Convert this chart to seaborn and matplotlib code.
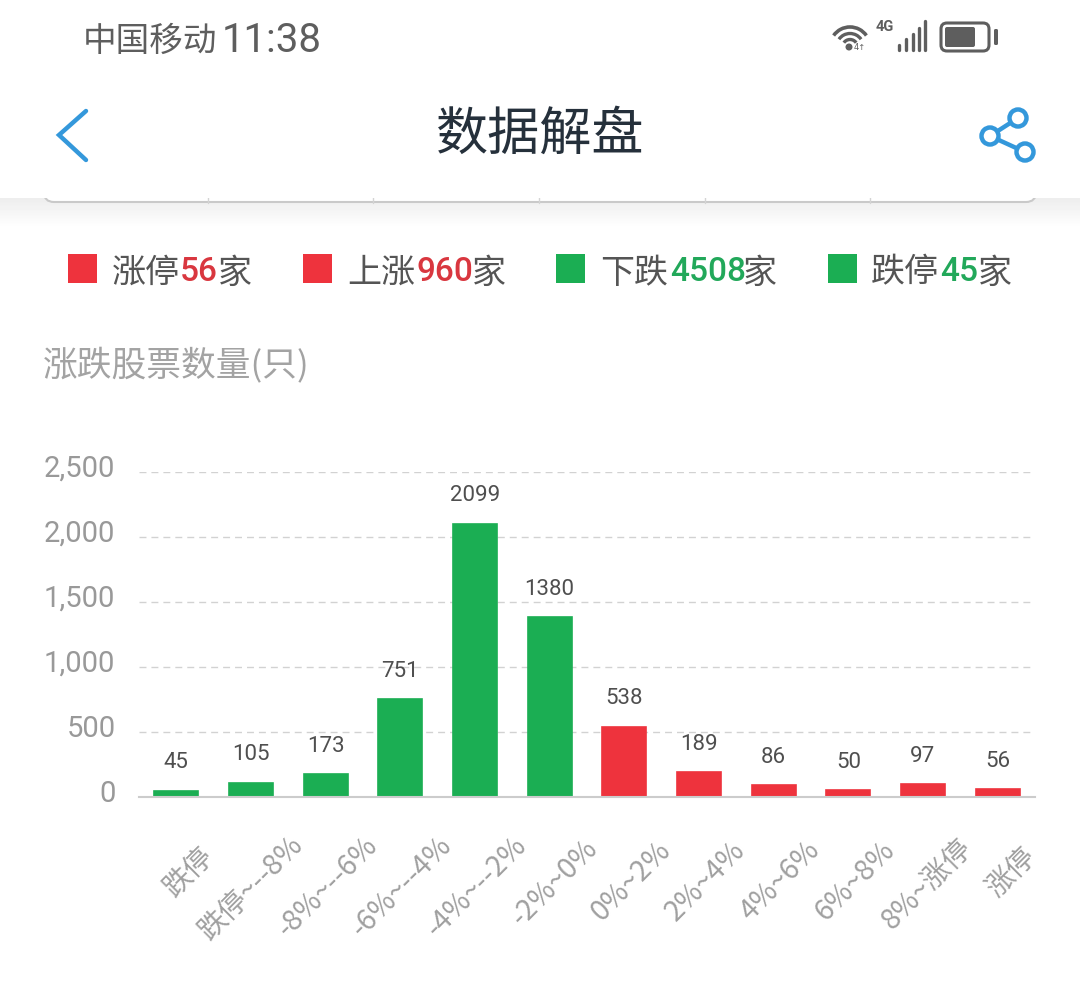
import matplotlib
matplotlib.use("Agg")
import matplotlib.pyplot as plt
from matplotlib.patches import Arc, Circle, FancyBboxPatch, Rectangle
from matplotlib.transforms import ScaledTranslation
import numpy as np
import pandas as pd
import seaborn as sns

# Data
categories = ["跌停", "跌停~--8%", "-8%~--6%", "-6%~--4%", "-4%~--2%", "-2%~0%",
              "0%~2%", "2%~4%", "4%~6%", "6%~8%", "8%~涨停", "涨停"]
stock_counts = [45, 105, 173, 751, 2099, 1380, 538, 189, 86, 50, 97, 56]
directions = ["down"] * 6 + ["up"] * 6
y_ticks = [0, 500, 1000, 1500, 2000, 2500]
summary_names = ["涨停", "上涨", "下跌", "跌停"]
summary_counts = ["56", "960", "4508", "45"]
summary_dirs = ["up", "up", "down", "down"]

RED = "#ee333d"
GREEN = "#1bae53"
palette = {"up": RED, "down": GREEN}
text_red = "#d9373f"
text_green = "#22a85a"
CJK = ["Noto Sans CJK SC", "DejaVu Sans"]
W, H = 1080, 983

sns.set_theme(style="white")
plt.rcParams["font.family"] = CJK

fig = plt.figure(figsize=(W / 100, H / 100), dpi=100, facecolor="white")

# Screen layer addressed in pixels, origin at the top left
ui = fig.add_axes([0, 0, 1, 1], zorder=0)
ui.set_xlim(0, W)
ui.set_ylim(H, 0)
ui.axis("off")

# Drop shadow under the header with the card edge peeking out
shade = np.linspace(0.93, 1, 30).reshape(-1, 1)
ui.imshow(shade, extent=[0, W, 228, 198], cmap="gray", vmin=0, vmax=1,
          aspect="auto", zorder=1)
ui.set_xlim(0, W)
ui.set_ylim(H, 0)
ui.add_patch(FancyBboxPatch((44, 170), 992, 32, boxstyle="round,pad=0,rounding_size=10",
                            fc="white", ec="#c9c9c9", lw=1.5, zorder=2))
for x in [208, 373, 539, 705, 870]:
    ui.plot([x, x], [196, 203], color="#d4d4d4", lw=1, zorder=2.1)
ui.add_patch(Rectangle((0, 0), W, 198, fc="white", ec="none", zorder=3))

# Status bar
ui.text(83, 41, "中国移动", fontsize=24.2, color="#5e5e5e", va="center", ha="left", zorder=4)
ui.text(222, 41, "11:38", fontsize=29, family="Roboto", color="#5e5e5e",
        va="center", ha="left", zorder=4)
for r, lw in [(7.5, 2.4), (13.5, 2.4), (20, 2.6)]:
    ui.add_patch(Arc((850, 47), 2 * r, 2 * r, theta1=215, theta2=325, color="#5e5e5e", lw=lw, zorder=4))
ui.add_patch(Circle((849, 47), 2.8, color="#5e5e5e", zorder=4))
ui.text(860, 47, "4↑", fontsize=6, family="DejaVu Sans", color="#5e5e5e",
        va="center", ha="center", zorder=4)
ui.text(885, 27, "4G", fontsize=10.5, family="Roboto", weight="bold", color="#5e5e5e",
        va="center", ha="center", stretch="condensed", zorder=4)
for x, h in zip([899, 906, 913, 919, 925], [5, 11, 16, 22, 29]):
    ui.plot([x, x], [50 - h, 50], color="#5e5e5e", lw=2.4, solid_capstyle="round", zorder=4)
ui.add_patch(FancyBboxPatch((941, 23), 48, 28, boxstyle="round,pad=0,rounding_size=6",
                            fc="none", ec="#5e5e5e", lw=2.2, zorder=4))
ui.add_patch(FancyBboxPatch((945, 27), 30, 20, boxstyle="round,pad=0,rounding_size=2",
                            fc="#5e5e5e", ec="none", zorder=4))
ui.add_patch(FancyBboxPatch((994, 29), 4, 16, boxstyle="round,pad=0,rounding_size=1.5",
                            fc="#5e5e5e", ec="none", zorder=4))

# Navigation bar
ui.text(540, 135, "数据解盘", fontsize=37.5, color="#25303b", va="center", ha="center", zorder=4)
ui.plot([86, 59, 86], [111, 135, 160], color="#3498db", lw=3.2, zorder=4,
        solid_capstyle="round", solid_joinstyle="miter")
share = [(1018, 118), (990, 136), (1025, 152)]
ui.plot([share[0][0], share[1][0], share[2][0]], [share[0][1], share[1][1], share[2][1]],
        color="#3498db", lw=3.2, zorder=4)
for c in share:
    ui.add_patch(Circle(c, 8.5, fc="white", ec="#3498db", lw=3.2, zorder=5))

# Summary row: swatch, name, coloured count, unit
swatch_x = [68, 303, 556, 828]
name_x = [112, 347, 600, 871]
count_x = [180, 416, 670, 940]
unit_x = [218, 472, 743, 978]
for i, name in enumerate(summary_names):
    up = summary_dirs[i] == "up"
    ui.add_patch(Rectangle((swatch_x[i], 254), 29, 29, fc=palette[summary_dirs[i]], ec="none", zorder=4))
    ui.text(name_x[i], 273, name, fontsize=24.5, color="#555555", va="center", ha="left", zorder=4)
    ui.text(count_x[i], 272, summary_counts[i], fontsize=24, family="Roboto", weight="medium",
            color=text_red if up else text_green, va="center", ha="left", zorder=4)
    ui.text(unit_x[i], 273, "家", fontsize=24.5, color="#555555", va="center", ha="left", zorder=4)

# Chart title
ui.text(43, 366, "涨跌股票数量(只)", fontsize=25, color="#a3a3a3", va="center", ha="left", zorder=4)

# Bar chart
top, bottom = 471.5, 796.5
left, right = 139, 1035
ax = fig.add_axes([left / W, 1 - bottom / H, (right - left) / W, (bottom - top) / H], zorder=2)
ax.patch.set_alpha(0)

frame = pd.DataFrame({"区间": categories, "数量": stock_counts, "方向": directions})
sns.barplot(data=frame, x="区间", y="数量", hue="方向", palette=palette, dodge=False,
            width=0.59, legend=False, ax=ax, saturation=1, order=categories)

# A hairline in the bar's own colour softens the edges
for bar in ax.patches:
    bar.set_edgecolor(bar.get_facecolor())
    bar.set_linewidth(1.2)

ax.set_xlim(-0.5, len(categories) - 0.5)
ax.set_ylim(y_ticks[0], y_ticks[-1])
ax.set_xlabel("")
ax.set_ylabel("")
ax.set_yticks(y_ticks)
ax.set_yticklabels([f"{v:,}" for v in y_ticks], family="Roboto", fontsize=21, color="#999999")
ax.tick_params(axis="y", length=0, pad=17)
ax.tick_params(axis="x", length=0, pad=0)
ax.yaxis.grid(True, color="#d2d2d2", linestyle=(0, (5, 3.6)), linewidth=1.0)
ax.set_axisbelow(True)
for spine in ["top", "left", "right"]:
    ax.spines[spine].set_visible(False)
ax.spines["bottom"].set_color("#cccccc")
ax.spines["bottom"].set_linewidth(1.5)

# Tick numbers sit a little above their gridlines
raise_ticks = ScaledTranslation(0, 5.5 / 100, fig.dpi_scale_trans)
for lab in ax.get_yticklabels():
    lab.set_transform(lab.get_transform() + raise_ticks)

for container in ax.containers:
    labels = [f"{h:.0f}" if h > 0 else "" for h in container.datavalues]
    ax.bar_label(container, labels=labels, padding=12.5, family="Roboto", fontsize=16, color="#4f4f4f")

# Slanted category labels: short ones ride higher and further right than long ones
ax.set_xticks(range(len(categories)))
ax.set_xticklabels(categories, rotation=0, ha="center", va="center", fontsize=20.5, color="#a0a0a0")
renderer = fig.canvas.get_renderer()
for lab in ax.get_xticklabels():
    width = lab.get_window_extent(renderer).width
    lab.set_rotation(45)
    lab.set_rotation_mode("anchor")
    mid_x = 13.5 - 0.163 * (width - 57)
    mid_y = 872.5 + 0.2 * (width - 57)
    lab.set_transform(lab.get_transform()
                      + ScaledTranslation(mid_x / 100, -(mid_y - bottom) / 100, fig.dpi_scale_trans))

fig.savefig("out.png", dpi=100)
